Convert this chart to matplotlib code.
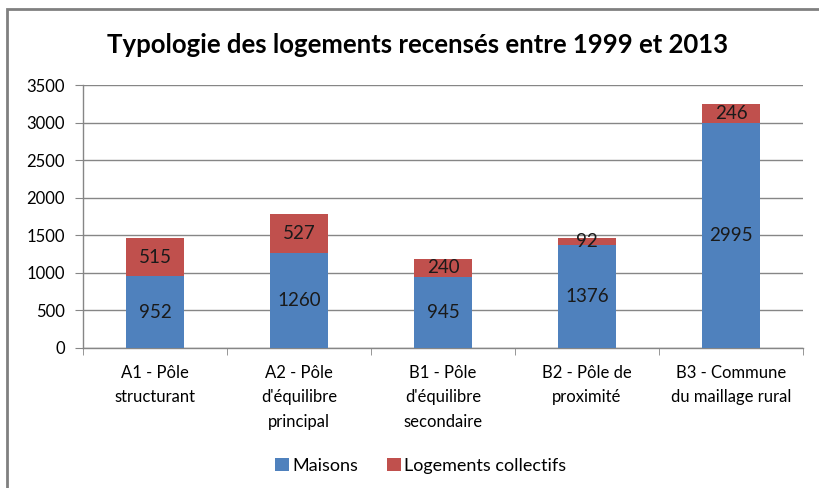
import numpy as np
import matplotlib.pyplot as plt
from matplotlib.patches import Rectangle

plt.rcParams['font.family'] = ['Lato', 'DejaVu Sans']

categories = ["A1 - Pôle\nstructurant",
              "A2 - Pôle\nd'équilibre\nprincipal",
              "B1 - Pôle\nd'équilibre\nsecondaire",
              "B2 - Pôle de\nproximité",
              "B3 - Commune\ndu maillage rural"]
maisons = [952, 1260, 945, 1376, 2995]
collectifs = [515, 527, 240, 92, 246]

blue = '#4f81bd'
red = '#c0504d'
grid = '#868686'

fig = plt.figure(figsize=(8.2, 4.88), dpi=100)
ax = fig.add_axes([83 / 820, 1 - 348 / 488, 720 / 820, 263 / 488])

x = np.arange(len(categories))
b1 = ax.bar(x, maisons, width=0.4, color=blue, label='Maisons', zorder=3)
b2 = ax.bar(x, collectifs, width=0.4, bottom=maisons, color=red,
            label='Logements collectifs', zorder=3)
ax.bar_label(b1, labels=[str(v) for v in maisons], label_type='center',
             fontsize=13.5, color='#1a1a1a', zorder=4)
ax.bar_label(b2, labels=[str(v) for v in collectifs], label_type='center',
             fontsize=13.5, color='#1a1a1a', zorder=4)

ax.set_xlim(-0.5, len(categories) - 0.5)
ax.set_ylim(0, 3500)
ax.set_yticks(np.arange(0, 3501, 500))
ax.yaxis.grid(True, color=grid, linewidth=1, zorder=0)
ax.set_axisbelow(True)

for side in ['top', 'right']:
    ax.spines[side].set_visible(False)
for side in ['left', 'bottom']:
    ax.spines[side].set_color(grid)
    ax.spines[side].set_linewidth(1)

ax.set_xticks(x)
ax.set_xticklabels(categories, fontsize=12, linespacing=1.65)
ax.tick_params(axis='x', length=0, pad=12)
ax.set_xticks(np.arange(-0.5, len(categories)), minor=True)
ax.tick_params(axis='x', which='minor', length=5, color=grid)
ax.tick_params(axis='y', length=6, color=grid, labelsize=12, pad=7)

fig.text(418 / 820, 1 - 45 / 488, 'Typologie des logements recensés entre 1999 et 2013',
         ha='center', va='center', fontsize=18.5, fontweight='bold')

fig.legend(handles=[b1, b2], loc='center', bbox_to_anchor=(421 / 820, 1 - 466 / 488),
           ncol=2, frameon=False, fontsize=13, handlelength=0.75, handleheight=0.75,
           handletextpad=0.2, columnspacing=1.6)

fig.patches.append(Rectangle((7 / 820, -0.1), 1.1, 1.1 - 9 / 488,
                             transform=fig.transFigure, fill=False,
                             edgecolor='#808080', linewidth=2))

fig.savefig('out.png', dpi=100)
